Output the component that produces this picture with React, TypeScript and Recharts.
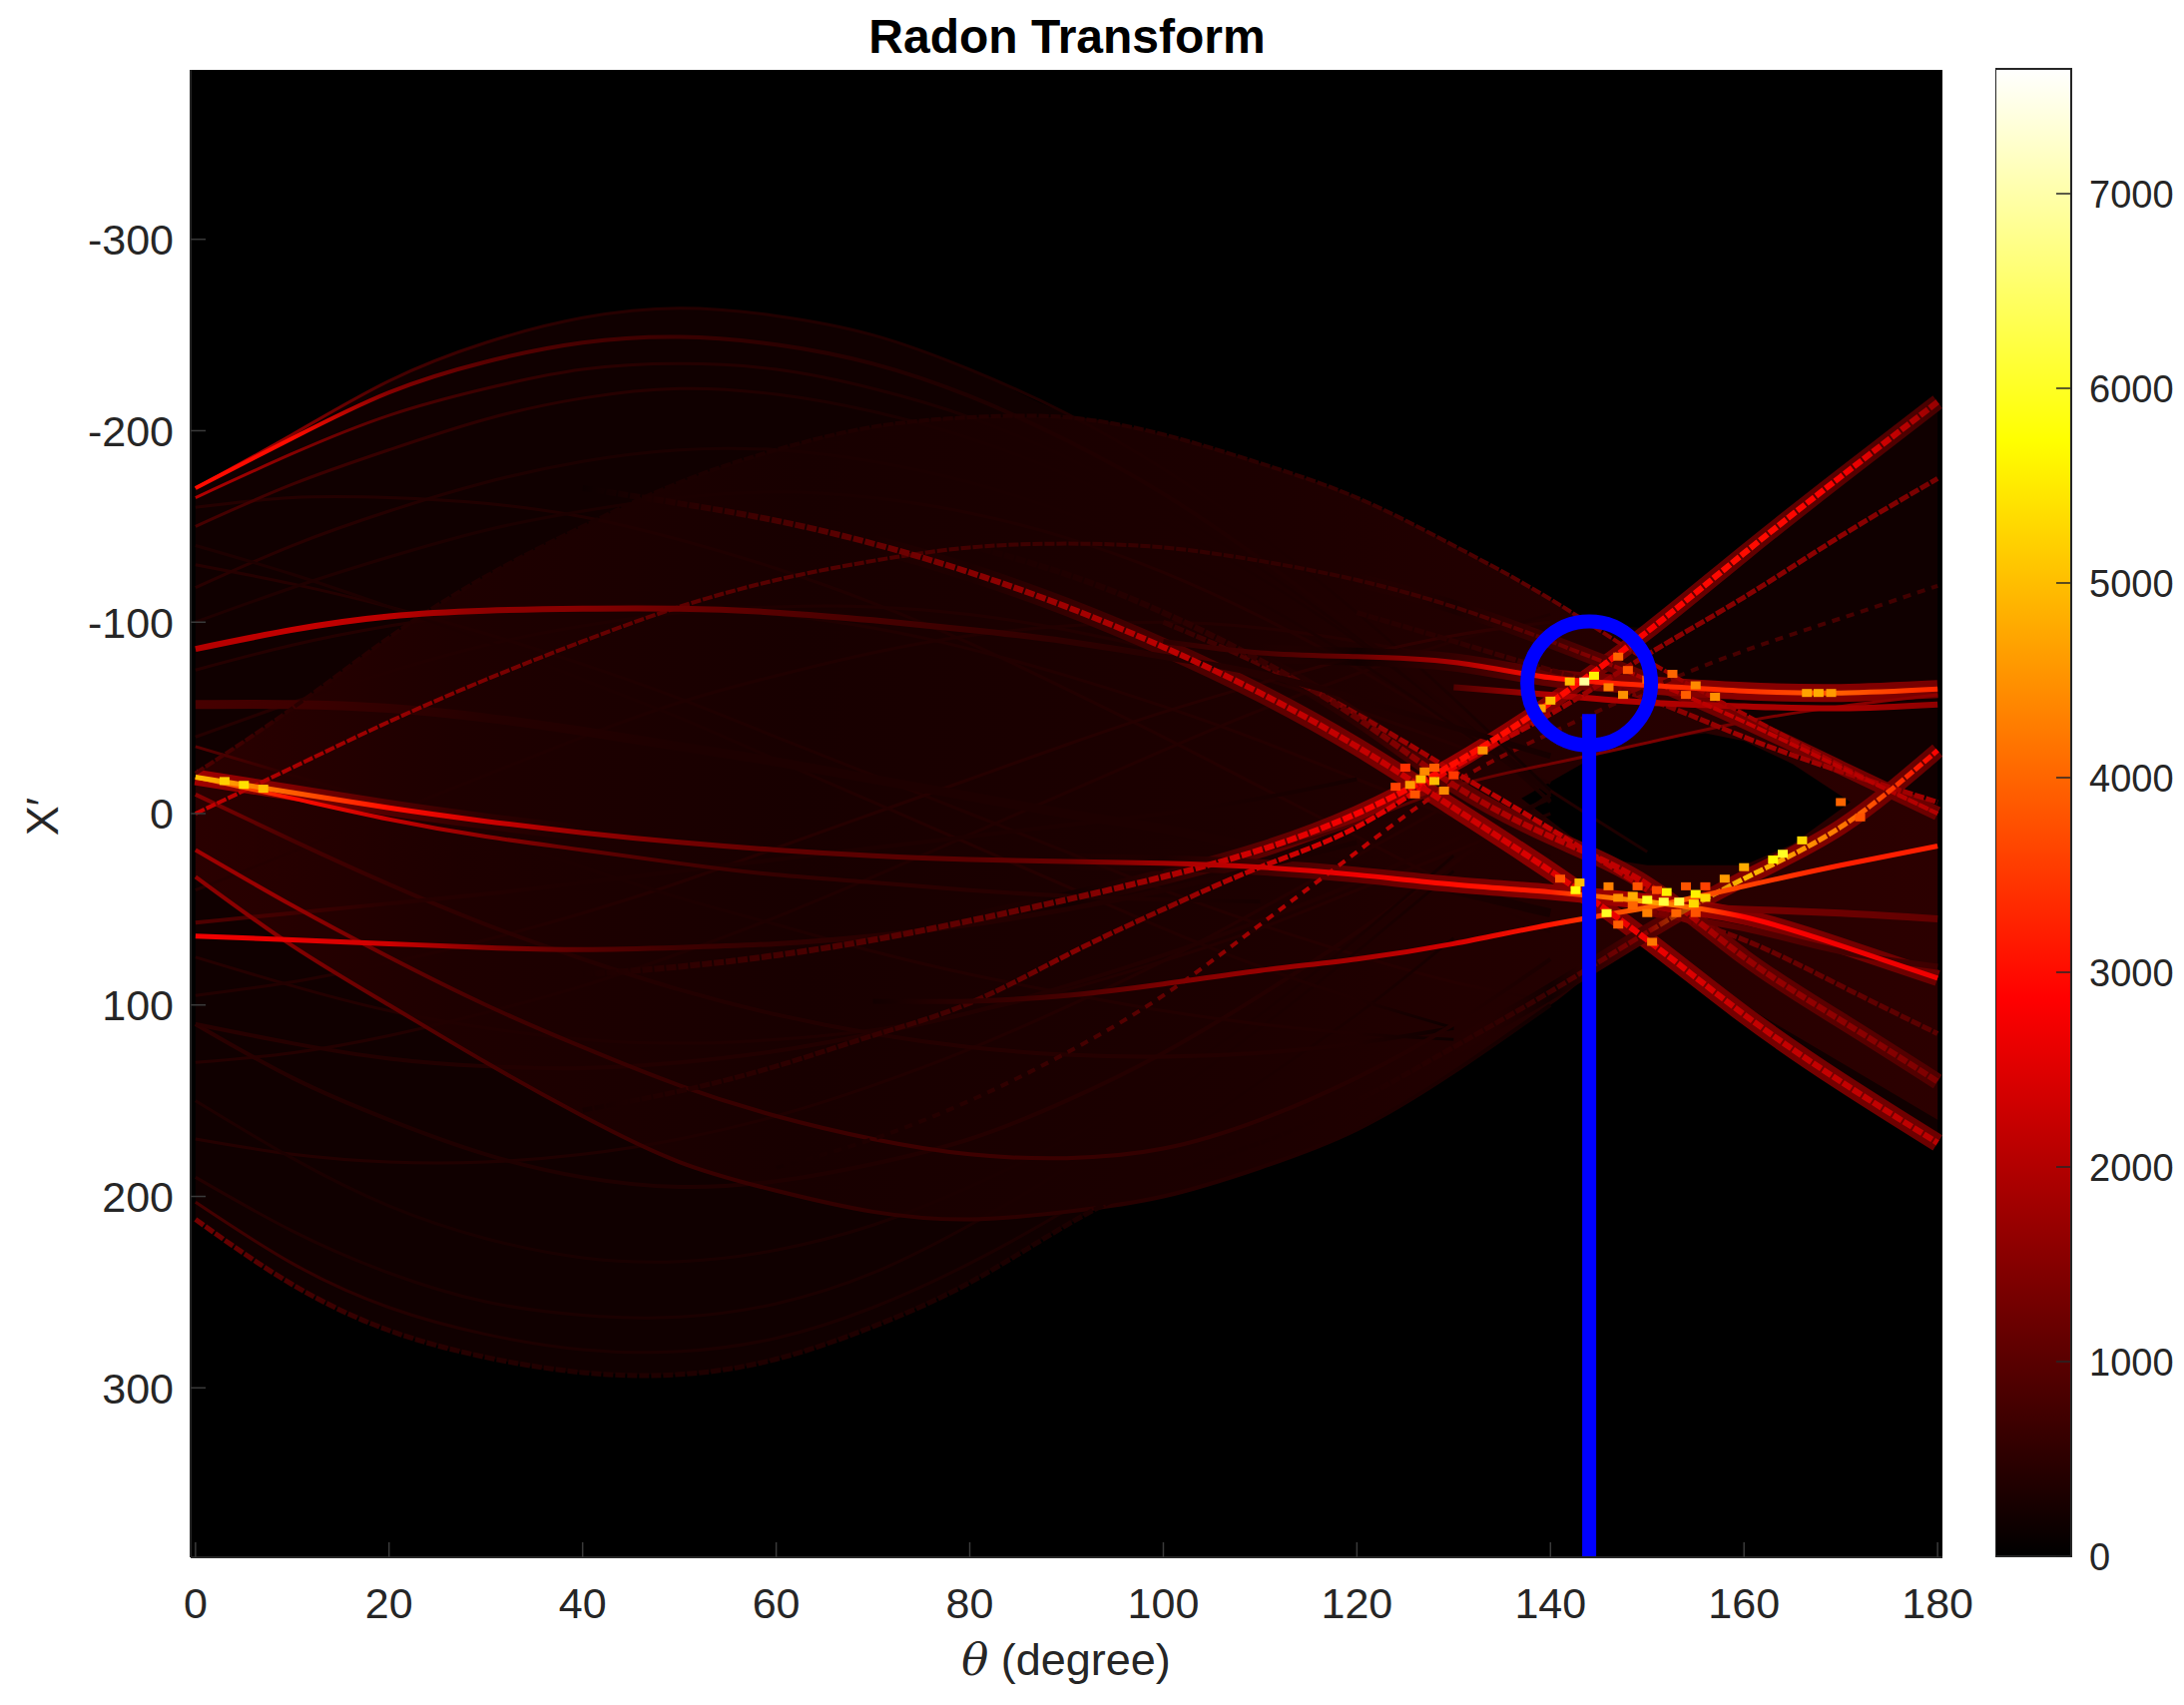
import React from 'react';
import {
  ComposedChart, Area, Line, Scatter, Bar, XAxis, YAxis, CartesianGrid, ReferenceLine, ReferenceDot,
} from 'recharts';

const _ = null;
const thetas = [0, 10, 20, 30, 40, 50, 60, 70, 80, 90, 100, 110, 120, 130, 140, 150, 160, 170, 180];
const xTicks = [0, 20, 40, 60, 80, 100, 120, 140, 160, 180];
const yTicks = [-300, -200, -100, 0, 100, 200, 300];
const barTicks = [0, 1000, 2000, 3000, 4000, 5000, 6000, 7000];
const barMax = 7641;

// Haze envelopes
const hazeOuterTop = [-170, -198, -226, -246, -259, -264, -260, -250, -232, -209, -198, -183, -165, -140, -110, -97, -136, -176, -215];
const hazeOuterBot = [212, 246, 270, 284, 292, 293, 285, 268, 245, 215, 190, 172, 150, 122, 93, 68, 105, 140, 172];
const hazeInnerTop = [-21, -55, -92, -124, -150, -173, -190, -202, -207, -207, -198, -183, -165, -140, -112, -80, -52, -25, 0];
const hazeInnerBot = [33, 69, 100, 130, 158, 182, 197, 208, 212, 208, 200, 185, 165, 135, 100, 68, 100, 130, 160];
const holeThetas = [137, 145, 150, 156, 160, 165, 171];
const holeTop = [-8, -31, -38, -42, -38, -26, -6];
const holeBot = [-8, 23, 27, 27, 27, 16, -6];

// Curves, one list of positions and one list of heat values
const a1 = [-170, -198, -226, -246, -259, -264, -260, -250, -232, -209, -180, -145, -105, -60, -12, _, _, _, _];
const a1z = [2900, 1500, 800, 600, 450, 400, 380, 360, 340, 340, 330, 320, 320, 300, 200, 0, 0, 0, 0];
const a2 = [-170, -196, -220, -236, -246, -249, -245, -235, -218, -195, -167, -133, -95, -52, -6, _, _, _, _];
const a2z = [3000, 3000, 1500, 1000, 800, 650, 500, 400, 350, 350, 350, 350, 350, 350, 300, 0, 0, 0, 0];
const a3 = [-165, -188, -208, -222, -232, -235, -232, -222, -207, -186, -160, -128, -92, -52, -10, _, _, _, _];
const a3z = [2000, 1500, 900, 650, 500, 400, 400, 350, 300, 300, 300, 300, 300, 300, 300, 0, 0, 0, 0];
const a4 = [-150, -172, -190, -206, -217, -222, -219, -210, -196, -177, -152, -123, -90, -52, -12, _, _, _, _];
const a4z = [800, 700, 600, 500, 450, 400, 350, 300, 300, 300, 300, 300, 300, 300, 300, 0, 0, 0, 0];
const a5 = [-118, -140, -158, -173, -184, -190, -190, -184, -173, -157, -136, -110, -80, -46, -10, _, _, _, _];
const a5z = [450, 450, 400, 350, 300, 300, 300, 300, 300, 300, 300, 300, 300, 300, 300, 0, 0, 0, 0];
const a6 = [-100, -118, -134, -148, -158, -165, -168, -165, -157, -144, -126, -103, -76, -45, -12, 20, _, _, _];
const a6z = [350, 350, 350, 300, 300, 300, 300, 300, 350, 350, 400, 400, 400, 400, 400, 300, 0, 0, 0];
const bArc = [-21, -55, -92, -124, -150, -173, -190, -202, -207, -207, -198, -183, -165, -140, -112, -80, -52, -25, 0];
const bArcZ = [900, 450, 400, 350, 300, 300, 330, 350, 380, 380, 450, 500, 600, 800, 1100, 1700, 1800, 1800, 1900];
const kArc = [0, -24, -48, -70, -90, -108, -122, -132, -139, -141, -139, -132, -122, -108, -90, -70, -48, -24, 0];
const kArcZ = [2200, 1900, 1700, 1400, 1150, 1050, 950, 900, 750, 650, 600, 550, 600, 750, 1100, 2000, 2200, 2100, 2000];
const band = [_, _, _, _, -170, -162, -153, -141, -126, -108, -87, -63, -35, -3, 30, 66, 105, 140, 172];
const bandZ = [0, 0, 0, 0, 150, 400, 800, 1100, 1500, 1800, 2100, 2200, 2200, 2300, 2500, 2700, 2200, 2200, 2100];
const arcTop = [-86, -96, -103, -106, -107, -107, -105, -101, -96, -90, -82, -73, -60, -45, -30, _, _, _, _];
const arcTopZ = [2000, 2200, 2100, 1600, 1500, 1200, 950, 800, 650, 520, 430, 400, 350, 300, 250, 0, 0, 0, 0];
const flat1 = [-57, -57, -55, -50, -43, -35, -27, -18, -9, 0, 8, 18, 28, 40, 52, _, _, _, _];
const flat1Z = [800, 700, 550, 420, 380, 330, 330, 330, 330, 330, 330, 330, 330, 300, 250, 0, 0, 0, 0];
const flat2 = [_, _, _, _, _, _, _, _, _, _, -90, -84, -82, -79, -71, -67, -64, -63, -65];
const flat2Z = [0, 0, 0, 0, 0, 0, 0, 0, 0, 0, 500, 800, 1200, 1900, 3000, 3300, 3400, 3900, 3300];
const flat3 = [_, _, _, _, _, _, _, _, _, _, _, _, _, -66, -62, -58, -56, -55, -57];
const flat3Z = [0, 0, 0, 0, 0, 0, 0, 0, 0, 0, 0, 0, 0, 900, 2000, 2000, 1900, 1900, 1600];
const riseA = [_, _, _, _, _, _, _, _, _, _, 30, 20, 5, -14, -26, -37, -48, -56, -62];
const riseAZ = [0, 0, 0, 0, 0, 0, 0, 0, 0, 0, 500, 700, 900, 1100, 1300, 1400, 1300, 1500, 1600];
const riseL = [_, _, _, _, 84, 80, 74, 66, 56, 45, 33, 19, 0, -26, -58, -95, -136, -176, -215];
const riseLZ = [0, 0, 0, 0, 300, 500, 750, 950, 1100, 1300, 1900, 2400, 2800, 3000, 3000, 2800, 3000, 2800, 1700];
const riseM = [_, _, _, _, 155, 145, 132, 116, 99, 74, 50, 28, 7, -24, -52, -83, -113, -145, -175];
const riseMZ = [0, 0, 0, 0, 250, 400, 500, 600, 800, 1500, 1500, 2200, 2500, 2600, 1800, 1600, 1500, 1600, 1300];
const riseN = [_, _, _, _, _, _, 185, 170, 150, 125, 95, 58, 20, -16, -42, -65, -85, -102, -119];
const riseNZ = [0, 0, 0, 0, 0, 0, 250, 350, 450, 700, 1100, 1900, 2200, 1700, 1100, 800, 800, 800, 700];
const lowEdge = [212, 246, 270, 284, 292, 293, 285, 268, 245, 215, 190, 172, 150, 122, 93, 62, 34, 7, -33];
const lowEdgeZ = [1300, 800, 500, 400, 350, 350, 350, 350, 300, 300, 300, 300, 350, 450, 650, 1500, 5000, 4200, 2800];
const low2 = [203, 235, 258, 272, 280, 281, 274, 258, 235, 207, 175, 140, 105, 65, _, _, _, _, _];
const low2Z = [800, 600, 400, 350, 300, 300, 300, 300, 300, 300, 300, 300, 300, 250, 0, 0, 0, 0, 0];
const low3 = [190, 218, 240, 255, 262, 263, 256, 240, 215, 185, 150, 112, 72, 30, _, _, _, _, _];
const low3Z = [400, 350, 300, 300, 300, 300, 300, 300, 300, 300, 300, 300, 300, 250, 0, 0, 0, 0, 0];
const low4 = [150, 180, 205, 222, 232, 234, 228, 215, 195, 170, 140, 105, 65, 22, _, _, _, _, _];
const low4Z = [350, 300, 280, 280, 280, 280, 300, 300, 300, 300, 300, 300, 300, 250, 0, 0, 0, 0, 0];
const low5 = [110, 138, 160, 178, 190, 195, 192, 183, 170, 150, 125, 95, 62, 26, -10, _, _, _, _];
const low5Z = [500, 400, 350, 350, 350, 350, 350, 350, 400, 400, 400, 400, 400, 400, 300, 0, 0, 0, 0];
const lobe1 = [33, 69, 100, 130, 158, 182, 197, 208, 212, 208, 200, 185, 165, 135, 100, _, _, _, _];
const lobe1Z = [1600, 1500, 1100, 800, 700, 650, 600, 550, 520, 480, 430, 380, 340, 300, 200, 0, 0, 0, 0];
const lobe2 = [19, 48, 75, 100, 122, 142, 158, 170, 178, 180, 175, 160, 138, 110, 76, _, _, _, _];
const lobe2Z = [1800, 1700, 1200, 750, 650, 600, 650, 700, 700, 650, 550, 480, 420, 380, 300, 0, 0, 0, 0];
const mid1 = [64, 66, 68, 70, 71, 70, 68, 64, 58, 50, 40, 28, 15, _, _, _, _, _, _];
const mid1Z = [2700, 2600, 2300, 1500, 1000, 700, 550, 450, 420, 380, 350, 320, 280, 0, 0, 0, 0, 0, 0];
const mid2 = [57, 52, 47, 42, 36, 30, 24, 18, 12, 6, 0, -8, -18, _, _, _, _, _, _];
const mid2Z = [900, 700, 450, 380, 330, 330, 330, 330, 330, 330, 330, 280, 250, 0, 0, 0, 0, 0, 0];
const mid3 = [-35, -20, -5, 12, 28, 44, 58, 72, 84, 94, 103, 110, 115, 118, _, _, _, _, _];
const mid3Z = [1000, 450, 380, 330, 330, 330, 330, 380, 380, 380, 380, 380, 350, 150, 0, 0, 0, 0, 0];
const mid4 = [110, 120, 128, 132, 133, 130, 124, 115, 104, 90, 74, 56, 36, 14, -8, _, _, _, _];
const mid4Z = [450, 420, 380, 380, 380, 380, 380, 380, 380, 380, 380, 380, 380, 380, 320, 0, 0, 0, 0];
const mid5 = [-10, 14, 37, 58, 76, 92, 105, 115, 122, 126, 127, 125, 120, 112, _, _, _, _, _];
const mid5Z = [1500, 800, 600, 500, 420, 380, 380, 380, 420, 420, 420, 380, 350, 150, 0, 0, 0, 0, 0];
const mid6 = [-140, -125, -108, -90, -70, -50, -28, -6, 16, 38, 60, 80, 97, 112, _, _, _, _, _];
const mid6Z = [330, 330, 330, 330, 330, 330, 330, 380, 420, 420, 380, 380, 350, 150, 0, 0, 0, 0, 0];
const mid7 = [95, 88, 78, 66, 52, 36, 18, 0, -18, -36, -53, -68, -82, -93, -100, _, _, _, _];
const mid7Z = [380, 380, 380, 380, 380, 420, 420, 420, 420, 420, 420, 450, 500, 550, 450, 0, 0, 0, 0];
const dim1 = [-130, -120, -108, -94, -78, -60, -40, -20, 0, 20, 40, 58, 74, 88, 98, _, _, _, _];
const dim2 = [-40, -58, -74, -88, -98, -105, -108, -108, -104, -96, -85, -71, -54, -36, -16, _, _, _, _];
const dim3 = [40, 20, 0, -20, -40, -58, -72, -84, -93, -98, -100, -97, -90, -80, -66, _, _, _, _];
const dim4 = [130, 125, 116, 104, 90, 73, 54, 33, 11, -11, -33, -54, -73, -90, -104, _, _, _, _];
const dim5 = [75, 90, 103, 112, 118, 120, 118, 113, 104, 92, 77, 60, 40, 20, 0, _, _, _, _];
const dim6 = [170, 178, 182, 182, 178, 170, 158, 142, 123, 101, 77, 50, 22, -6, _, _, _, _, _];
const dim7 = [-75, -88, -98, -105, -108, -108, -104, -97, -86, -72, -56, -38, -18, 2, 22, _, _, _, _];
const dim8 = [-160, -165, -165, -162, -155, -143, -128, -110, -89, -65, -40, -14, 12, 38, 62, _, _, _, _];
const dimHeat = [420, 400, 380, 360, 350, 350, 350, 360, 370, 380, 390, 400, 420, 420, 350, 0, 0, 0, 0];
const cupLine = [-19, -11, -3, 4, 10, 15, 19, 22, 24, 25, 26, 28, 32, 37, 41, 46, 54, 69, 86];
const cupLineZ = [5000, 3900, 3000, 2300, 1700, 1300, 1100, 1000, 1000, 1200, 1800, 2300, 2700, 3000, 3200, 4800, 2900, 2700, 2700];
const sideLine = [-19, -8, 3, 12, 19, 26, 32, 36, 40, 43, 45, 46, _, _, _, _, _, _, _];
const sideLineZ = [4500, 3000, 2200, 1600, 1100, 800, 600, 520, 450, 400, 350, 250, 0, 0, 0, 0, 0, 0, 0];
const valley = [_, _, _, _, _, _, _, 98, 98, 95, 89, 82, 76, 68, 58, 49, 38, 27, 17];
const valleyZ = [0, 0, 0, 0, 0, 0, 0, 200, 500, 800, 1400, 1700, 1900, 2400, 3100, 4000, 3600, 3200, 3200];
const fanFlat = [_, _, _, _, _, _, _, _, _, _, _, _, _, _, _, 48, 50, 52, 55];
const fanFlatZ = [0, 0, 0, 0, 0, 0, 0, 0, 0, 0, 0, 0, 0, 0, 0, 1800, 1300, 1200, 1100];
const fanLow = [_, _, _, _, _, _, _, _, _, _, _, _, _, _, _, 52, 60, 72, 80];
const fanLowZ = [0, 0, 0, 0, 0, 0, 0, 0, 0, 0, 0, 0, 0, 0, 0, 1300, 1000, 800, 700];
const armC = [_, _, _, _, _, _, _, _, -140, -125, -105, -80, -50, -15, 12, 37, 75, 108, 140];
const armCZ = [0, 0, 0, 0, 0, 0, 0, 0, 300, 350, 450, 600, 1200, 1800, 2100, 2200, 1700, 1600, 1400];
const armD = [_, _, _, _, _, _, _, _, _, _, -100, -78, -52, -22, 8, 40, _, _, _];
const armDZ = [0, 0, 0, 0, 0, 0, 0, 0, 0, 0, 500, 900, 1500, 2000, 2200, 2000, 0, 0, 0];
const armG = [_, _, _, _, _, _, _, _, _, _, _, _, _, _, _, 50, 66, 90, 115];
const armGZ = [0, 0, 0, 0, 0, 0, 0, 0, 0, 0, 0, 0, 0, 0, 0, 1400, 1200, 1100, 1000];
const armJ = [_, _, _, _, _, _, _, _, _, _, _, _, -105, -90, -75, -60, -40, -22, -6];
const armJZ = [0, 0, 0, 0, 0, 0, 0, 0, 0, 0, 0, 0, 400, 500, 800, 1400, 1800, 1800, 1800];

// Broad low-level skirts around the strong lines on the right
const bandSkirtZ = [0, 0, 0, 0, 0, 0, 0, 0, 300, 600, 800, 1000, 1300, 1500, 1500, 1400, 1300, 1300, 1200];
const riseLSkirtZ = [0, 0, 0, 0, 0, 0, 0, 0, 0, 200, 500, 1000, 1400, 1700, 1500, 1200, 1100, 1000, 800];
const armCSkirtZ = [0, 0, 0, 0, 0, 0, 0, 0, 0, 0, 0, 0, 500, 1000, 1200, 1300, 1100, 1000, 900];
const kSkirtZ = [0, 0, 0, 0, 0, 0, 0, 0, 0, 0, 0, 0, 0, 300, 700, 1200, 1300, 1300, 1200];
const edgeSkirtZ = [0, 0, 0, 0, 0, 0, 0, 0, 0, 0, 0, 0, 0, 0, 200, 900, 1500, 1400, 1100];
const cupSkirtZ = [1800, 1400, 900, 500, 0, 0, 0, 0, 0, 0, 300, 700, 1100, 1300, 1500, 1900, 1500, 1300, 1200];
const flatSkirtZ = [0, 0, 0, 0, 0, 0, 0, 0, 0, 0, 0, 0, 200, 600, 1100, 1500, 1500, 1500, 1300];

const BLOCK = '10 2';
const BROKEN = '8 7';
const curves: any[] = [
  { name: 'dim8', values: dim8, heat: dimHeat, width: 3 },
  { name: 'dim7', values: dim7, heat: dimHeat, width: 3 },
  { name: 'dim6', values: dim6, heat: dimHeat, width: 3 },
  { name: 'dim5', values: dim5, heat: dimHeat, width: 3 },
  { name: 'dim4', values: dim4, heat: dimHeat, width: 3 },
  { name: 'dim3', values: dim3, heat: dimHeat, width: 3 },
  { name: 'dim2', values: dim2, heat: dimHeat, width: 3 },
  { name: 'dim1', values: dim1, heat: dimHeat, width: 3 },
  { name: 'a6', values: a6, heat: a6z, width: 3 },
  { name: 'a5', values: a5, heat: a5z, width: 3 },
  { name: 'a4', values: a4, heat: a4z, width: 3 },
  { name: 'a3', values: a3, heat: a3z, width: 3 },
  { name: 'a1', values: a1, heat: a1z, width: 3 },
  { name: 'a2', values: a2, heat: a2z, width: 4 },
  { name: 'low5', values: low5, heat: low5Z, width: 4 },
  { name: 'low4', values: low4, heat: low4Z, width: 3 },
  { name: 'low3', values: low3, heat: low3Z, width: 3 },
  { name: 'low2', values: low2, heat: low2Z, width: 3 },
  { name: 'mid7', values: mid7, heat: mid7Z, width: 3 },
  { name: 'mid6', values: mid6, heat: mid6Z, width: 3 },
  { name: 'mid5', values: mid5, heat: mid5Z, width: 4 },
  { name: 'mid4', values: mid4, heat: mid4Z, width: 4 },
  { name: 'mid3', values: mid3, heat: mid3Z, width: 3 },
  { name: 'mid2', values: mid2, heat: mid2Z, width: 4 },
  { name: 'flat1', values: flat1, heat: flat1Z, width: 9 },
  { name: 'lobe1', values: lobe1, heat: lobe1Z, width: 4 },
  { name: 'lobe2', values: lobe2, heat: lobe2Z, width: 4 },
  { name: 'bandSkirt', values: band, heat: bandSkirtZ, width: 18 },
  { name: 'riseLSkirt', values: riseL, heat: riseLSkirtZ, width: 16 },
  { name: 'armCSkirt', values: armC, heat: armCSkirtZ, width: 16 },
  { name: 'kSkirt', values: kArc, heat: kSkirtZ, width: 14 },
  { name: 'edgeSkirt', values: lowEdge, heat: edgeSkirtZ, width: 16 },
  { name: 'cupSkirt', values: cupLine, heat: cupSkirtZ, width: 16 },
  { name: 'flatSkirt', values: flat2, heat: flatSkirtZ, width: 18 },
  { name: 'riseA', values: riseA, heat: riseAZ, width: 3 },
  { name: 'armJ', values: armJ, heat: armJZ, width: 5, dash: BLOCK },
  { name: 'fanLow', values: fanLow, heat: fanLowZ, width: 6 },
  { name: 'fanFlat', values: fanFlat, heat: fanFlatZ, width: 7 },
  { name: 'armG', values: armG, heat: armGZ, width: 5, dash: BLOCK },
  { name: 'riseN', values: riseN, heat: riseNZ, width: 4, dash: BROKEN },
  { name: 'armD', values: armD, heat: armDZ, width: 5, dash: BLOCK },
  { name: 'armC', values: armC, heat: armCZ, width: 6, dash: BLOCK },
  { name: 'flat3', values: flat3, heat: flat3Z, width: 6 },
  { name: 'bArc', values: bArc, heat: bArcZ, width: 4, dash: BLOCK },
  { name: 'kArc', values: kArc, heat: kArcZ, width: 4, dash: BLOCK },
  { name: 'arcTop', values: arcTop, heat: arcTopZ, width: 6 },
  { name: 'mid1', values: mid1, heat: mid1Z, width: 5 },
  { name: 'sideLine', values: sideLine, heat: sideLineZ, width: 4 },
  { name: 'lowEdge', values: lowEdge, heat: lowEdgeZ, width: 5, dash: BLOCK },
  { name: 'riseM', values: riseM, heat: riseMZ, width: 5, dash: BLOCK },
  { name: 'valley', values: valley, heat: valleyZ, width: 5 },
  { name: 'band', values: band, heat: bandZ, width: 6, dash: BLOCK },
  { name: 'riseL', values: riseL, heat: riseLZ, width: 6, dash: BLOCK },
  { name: 'flat2', values: flat2, heat: flat2Z, width: 5 },
  { name: 'cupLine', values: cupLine, heat: cupLineZ, width: 5 },
];

// Local maxima where the curves cross
const spotThetas = [143.5, 144.5, 142, 140, 139, 152.6, 157, 155, 167.7, 166.5, 169, 147, 147.5, 133, 126.6, 128, 125.5, 127, 129, 164, 166, 163, 160, 158, 142.6, 143, 145.8, 150, 151.7, 153.3, 154.8, 148.5, 156, 152, 155, 150.5, 5, 3, 7, 170, 172, 124, 126, 128, 130, 125, 146, 147, 148.5, 149, 150, 151, 153, 154, 155, 156, 147, 141, 146, 150, 148, 154];
const spotValues = [-69, -72, -69, -59, -55, -73, -61, -67, -63, -63, -63, -82, -62, -33, -18, -17, -15, -22, -12, 21, 14, 24, 28, 34, 40, 36, 52, 45, 46, 46, 47, 43, 44, 41, 42, 67, -15, -17, -13, -6, 2, -14, -10, -24, -20, -24, 38, 44, 48, 38, 52, 40, 52, 38, 52, 38, 58, 34, -66, -70, -75, -62];
const spotHeat = [6900, 5600, 5000, 5000, 4700, 4000, 4500, 4400, 4800, 4700, 4600, 4000, 4500, 4500, 5000, 5000, 4600, 4400, 4400, 6000, 5300, 5700, 4800, 4600, 5800, 5000, 6000, 6000, 6200, 6300, 5300, 4800, 5300, 5600, 5600, 4200, 5400, 5200, 5000, 4000, 3800, 3600, 3800, 3900, 3500, 3400, 4300, 4500, 4000, 3800, 4300, 3700, 4000, 3800, 3800, 3600, 3900, 3800, 4300, 4000, 3800, 3900];

const rows = thetas.map((theta, i) => {
  const row: any = {
    theta,
    hazeOuter: [hazeOuterTop[i], hazeOuterBot[i]],
    hazeInner: [hazeInnerTop[i], hazeInnerBot[i]],
  };
  curves.forEach((c) => { row[c.name] = c.values[i]; });
  return row;
});
const holeRows = holeThetas.map((theta, i) => ({ theta, hole: [holeTop[i], holeBot[i]] }));
const spotRows = spotThetas.map((theta, i) => ({ theta, value: spotValues[i], heat: spotHeat[i] }));

function hot(z: number) {
  const t = Math.max(0, Math.min(1, z / barMax));
  const r = Math.min(1, t / 0.375);
  const g = Math.max(0, Math.min(1, (t - 0.375) / 0.375));
  const b = Math.max(0, Math.min(1, (t - 0.75) / 0.25));
  return `rgb(${Math.round(r * 255)},${Math.round(g * 255)},${Math.round(b * 255)})`;
}

const PLOT = { left: 191, right: 1946, top: 70, bottom: 1560 };
const FONT = '"Liberation Sans", Arial, sans-serif';
const INK = '#262626';
const MARK = '#3a3a3a';
const axisLine = { stroke: INK, strokeWidth: 2 };
const barStops = [0, 1000, 2000, 2865, 4000, 5000, 5730, 6500, 7641];
const TICK = 15;

function Spot(props: any) {
  const { cx, cy, payload } = props;
  return <rect x={cx - 5} y={cy - 4} width={10} height={8} fill={hot(payload.heat)} />;
}

function LeftTick({ x, y, payload }: any) {
  return (
    <g>
      <line x1={x + 17} x2={x + 17 + TICK} y1={y} y2={y} stroke={MARK} strokeWidth={1.5} />
      <text x={x} y={y} dy="0.36em" textAnchor="end" fontFamily={FONT} fontSize={43} fill={INK}>{payload.value}</text>
    </g>
  );
}
function BottomTick({ x, y, payload }: any) {
  return (
    <g>
      <line x1={x} x2={x} y1={y - 30} y2={y - 30 - TICK} stroke={MARK} strokeWidth={1.5} />
      <text x={x} y={y} dy="0.72em" textAnchor="middle" fontFamily={FONT} fontSize={43} fill={INK}>{payload.value}</text>
    </g>
  );
}
function TopTick({ x, y }: any) {
  return <line x1={x} x2={x} y1={y} y2={y + TICK} stroke={MARK} strokeWidth={1.5} />;
}
function RightTick({ x, y }: any) {
  return <line x1={x} x2={x - TICK} y1={y} y2={y} stroke={MARK} strokeWidth={1.5} />;
}
function BarTick({ x, y, payload }: any) {
  return (
    <g>
      <line x1={x - 18} x2={x - 18 - TICK} y1={y} y2={y} stroke={INK} strokeWidth={1.5} />
      <text x={x} y={y} dy="0.36em" textAnchor="start" fontFamily={FONT} fontSize={38} fill={INK}>{payload.value}</text>
    </g>
  );
}

export default function App() {
  return (
    <div style={{ position: 'absolute', left: 0, top: 0, width: 2188, height: 1708, background: '#fff' }}>
      <div style={{ position: 'absolute', left: 0, top: 0 }}>
        <ComposedChart
          width={2188}
          height={1708}
          data={rows}
          margin={{ left: 0, right: 242, top: PLOT.top, bottom: 0 }}
        >
          <defs>
            {curves.map((c) => (
              <linearGradient key={c.name} id={`g-${c.name}`} gradientUnits="userSpaceOnUse" x1={PLOT.left} x2={PLOT.right} y1={0} y2={0}>
                {thetas.map((t, i) => (
                  <stop
                    key={t}
                    offset={(t + 0.5) / 181}
                    stopColor={hot(c.heat[i] > 0 ? c.heat[i] : 500)}
                    stopOpacity={c.heat[i] > 0 ? 1 : 0}
                  />
                ))}
              </linearGradient>
            ))}
            <linearGradient id="haze-in" gradientUnits="userSpaceOnUse" x1={PLOT.left} x2={PLOT.right} y1={0} y2={0}>
              <stop offset={0} stopColor="#2a0000" />
              <stop offset={0.15} stopColor="#1e0000" />
              <stop offset={0.35} stopColor="#180000" />
              <stop offset={0.6} stopColor="#1c0000" />
              <stop offset={0.8} stopColor="#240000" />
              <stop offset={1} stopColor="#2c0000" />
            </linearGradient>
          </defs>
          <CartesianGrid fill="#000" horizontal={false} vertical={false} />
          <XAxis
            type="number"
            dataKey="theta"
            domain={[-0.5, 180.5]}
            ticks={xTicks}
            height={148}
            allowDataOverflow
            tick={<BottomTick />}
            tickSize={0}
            tickMargin={30}
            tickLine={false}
            axisLine={axisLine}
            interval={0}
          />
          <XAxis xAxisId="top" orientation="top" type="number" domain={[-0.5, 180.5]} ticks={xTicks} height={0} tick={<TopTick />} tickSize={0} tickMargin={0} tickLine={false} axisLine={axisLine} interval={0} />
          <YAxis
            type="number"
            reversed
            domain={[-388.5, 388.5]}
            ticks={yTicks}
            width={191}
            allowDataOverflow
            tick={<LeftTick />}
            tickSize={0}
            tickMargin={17}
            tickLine={false}
            axisLine={axisLine}
            interval={0}
          />
          <YAxis yAxisId="right" orientation="right" type="number" reversed domain={[-388.5, 388.5]} ticks={yTicks} width={0} tick={<RightTick />} tickSize={0} tickMargin={0} tickLine={false} axisLine={axisLine} interval={0} />
          <Area dataKey="hazeOuter" type="monotoneX" fill="#100000" fillOpacity={1} stroke="none" isAnimationActive={false} />
          <Area dataKey="hazeInner" type="monotoneX" fill="url(#haze-in)" fillOpacity={1} stroke="none" isAnimationActive={false} />
          <Area data={holeRows} dataKey="hole" type="linear" fill="#000" fillOpacity={1} stroke="none" isAnimationActive={false} />
          {curves.map((c) => (
            <Line
              key={c.name}
              dataKey={c.name}
              type="natural"
              stroke={`url(#g-${c.name})`}
              strokeWidth={c.width}
              strokeDasharray={c.dash}
              dot={false}
              activeDot={false}
              connectNulls={false}
              legendType="none"
              isAnimationActive={false}
            />
          ))}
          <Scatter data={spotRows} dataKey="value" shape={<Spot />} isAnimationActive={false} />
          <ReferenceLine segment={[{ x: 144, y: -52 }, { x: 144, y: 388.5 }]} stroke="#0000ff" strokeWidth={14} />
          <ReferenceDot x={144} y={-68} r={62} fill="none" stroke="#0000ff" strokeWidth={14} ifOverflow="visible" />
        </ComposedChart>
      </div>
      <div style={{ position: 'absolute', left: 1999, top: 0 }}>
        <ComposedChart
          width={189}
          height={1708}
          data={[{ name: 'scale', level: barMax }]}
          margin={{ left: 0, right: 0, top: 69, bottom: 149 }}
          barCategoryGap={0}
        >
          <defs>
            <linearGradient id="hot-bar" x1={0} y1={1} x2={0} y2={0}>
              {barStops.map((v) => (
                <stop key={v} offset={v / barMax} stopColor={hot(v)} />
              ))}
            </linearGradient>
          </defs>
          <XAxis dataKey="name" hide />
          <YAxis
            orientation="right"
            type="number"
            domain={[0, barMax]}
            ticks={barTicks}
            width={113}
            tick={<BarTick />}
            tickSize={0}
            tickMargin={18}
            tickLine={false}
            axisLine={axisLine}
            interval={0}
          />
          <Bar dataKey="level" fill="url(#hot-bar)" stroke={INK} strokeWidth={2} isAnimationActive={false} />
        </ComposedChart>
      </div>
      <svg width={2188} height={1708} style={{ position: 'absolute', left: 0, top: 0, pointerEvents: 'none' }}>
        <text x={1069} y={53} textAnchor="middle" fontFamily={FONT} fontWeight="bold" fontSize={48} fill="#000">Radon Transform</text>
        <text x={1068} y={1678} textAnchor="middle" fontFamily={FONT} fontSize={45} fill={INK}>
          <tspan fontStyle="italic" fontFamily="'DejaVu Serif', serif">θ</tspan> (degree)
        </text>
        <text transform="translate(58,818) rotate(-90)" textAnchor="middle" fontFamily={FONT} fontSize={45} fill={INK}>X′</text>
      </svg>
    </div>
  );
}
